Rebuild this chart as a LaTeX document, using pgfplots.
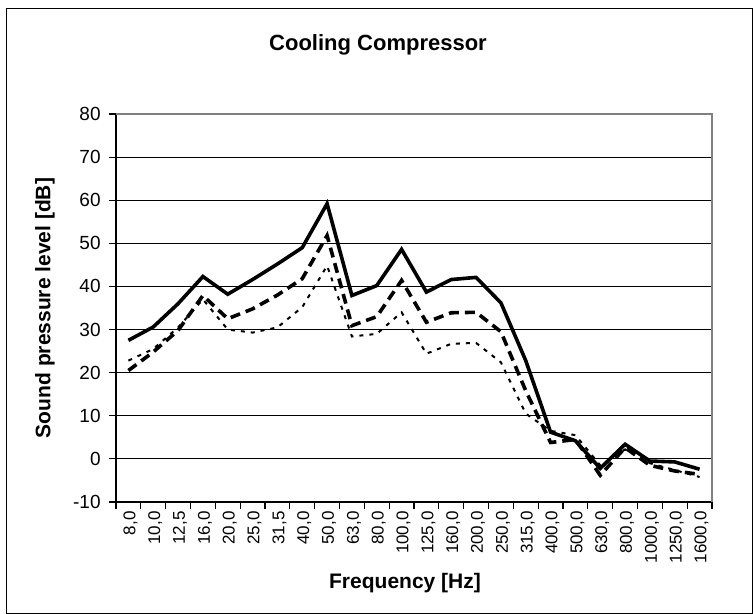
\documentclass[border=0pt]{standalone}
\usepackage{fontspec}
\setmainfont{Liberation Sans}
\usepackage{pgfplots}
\pgfplotsset{compat=1.18}

% octave band levels, one row per band (index, solid, dashed, dotted)
\pgfplotstableread{
i  a     b     c
0  27.5  20.5  22.8
1  30.6  24.8  25.5
2  36.0  29.8  30.5
3  42.3  37.9  37.0
4  38.2  32.5  30.0
5  41.6  34.8  29.3
6  45.2  38.0  30.5
7  49.0  41.8  35.2
8  59.2  51.8  44.8
9  37.9  30.9  28.4
10 40.2  33.0  29.0
11 48.6  41.4  34.0
12 38.7  31.7  24.4
13 41.6  33.9  26.7
14 42.1  34.0  26.9
15 36.2  29.5  22.4
16 22.8  15.8  10.5
17 6.2   3.8   6.5
18 4.2   4.5   5.5
19 -2.2  -3.8  -1.5
20 3.4   2.6   2.2
21 -0.5  -1.5  -1.0
22 -0.7  -2.8  -2.6
23 -2.4  -3.6  -4.2
}\levels

\begin{document}
\begin{tikzpicture}
\useasboundingbox (-58pt,-56pt) rectangle (318.5pt,251pt);
\draw[black, line width=0.5pt] (-54.5pt,-55.5pt) rectangle (318pt,246.5pt);
\node[font=\fontsize{11}{13}\selectfont\bfseries] at (131pt,228.5pt) {Cooling Compressor};
\begin{axis}[
  at={(0,0)}, anchor=south west,
  scale only axis, width=298pt, height=194pt,
  xmin=-0.5, xmax=23.5, ymin=-10, ymax=80,
  axis lines=left, axis line style={-, black, line width=0.6pt},
  xtick={0,...,23},
  xticklabels={{8,0},{10,0},{12,5},{16,0},{20,0},{25,0},{31,5},{40,0},{50,0},{63,0},{80,0},{100,0},{125,0},{160,0},{200,0},{250,0},{315,0},{400,0},{500,0},{630,0},{800,0},{1000,0},{1250,0},{1600,0}},
  major x tick style={draw=none},
  minor xtick={-0.5,0.5,...,23.5},
  minor x tick style={black, line width=0.6pt},
  ytick={-10,0,...,80},
  yticklabels={-10,0,10,20,30,40,50,60,70,80},
  y tick style={black, line width=0.6pt},
  tick align=outside, major tick length=3.5pt, minor tick length=3.5pt,
  ymajorgrids, grid style={black, line width=0.5pt},
  xticklabel style={rotate=90, anchor=east, inner sep=1pt, yshift=-1pt, font=\fontsize{8.5}{10}\selectfont},
  yticklabel style={inner sep=0pt, xshift=-4pt, font=\fontsize{9.5}{11}\selectfont},
  clip=false,
]
\addplot[black, line width=1pt, dash pattern=on 2pt off 3pt] table[x=i, y=c] {\levels};
\addplot[black, line width=1.8pt, dash pattern=on 5pt off 3pt] table[x=i, y=b] {\levels};
\addplot[black, line width=1.8pt] table[x=i, y=a] {\levels};
\draw[gray, line width=0.6pt] (rel axis cs:0,1) -- (rel axis cs:1,1) -- (rel axis cs:1,0);
\end{axis}
\node[font=\fontsize{10.5}{12}\selectfont\bfseries] at (144.5pt,-40.5pt) {Frequency [Hz]};
\node[font=\fontsize{10.5}{12}\selectfont\bfseries, rotate=90] at (-35.5pt,97pt) {Sound pressure level [dB]};
\end{tikzpicture}
\end{document}
